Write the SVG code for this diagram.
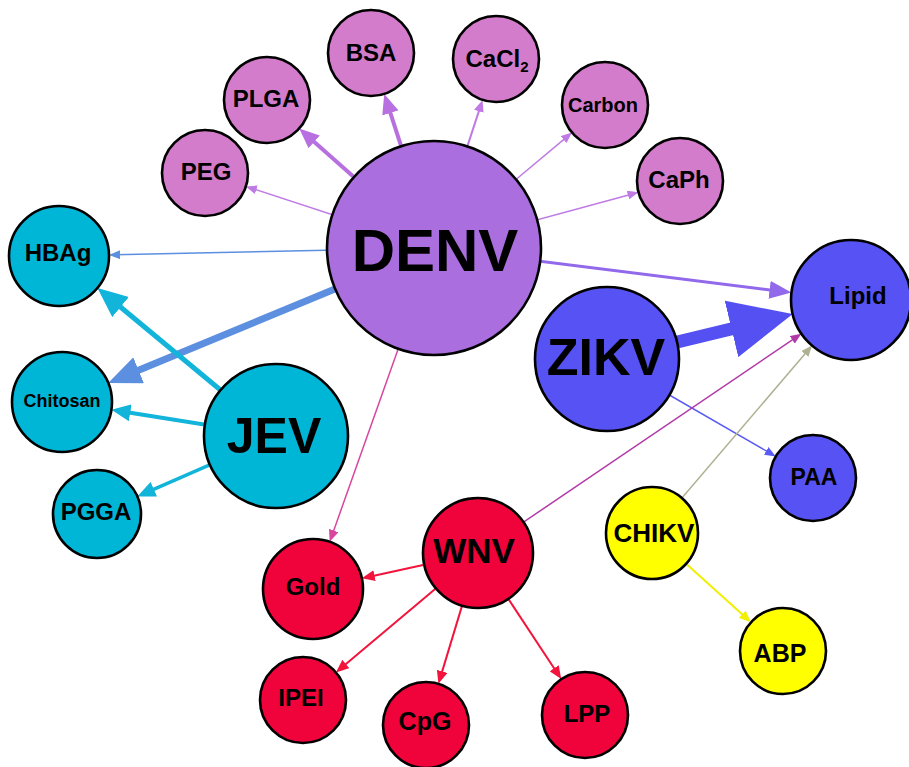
<svg xmlns="http://www.w3.org/2000/svg" width="909" height="767" viewBox="0 0 909 767">
<style>
.n{stroke:#000;stroke-width:2.6}
.t{font-family:"Liberation Sans",Arial,sans-serif;font-weight:bold;text-anchor:middle;fill:#000}
.e{fill:none;stroke-linecap:butt}
.denv{fill:#aa6ede}
.pk{fill:#d47ccc}
.cy{fill:#00b6d6}
.bl{fill:#5652f3}
.rd{fill:#f0033a}
.ye{fill:#ffff00}
</style>
<defs>
<marker id="lps" markerUnits="userSpaceOnUse" markerWidth="11" markerHeight="9" refX="5.5" refY="4.5" orient="auto"><path d="M0,0 L11,4.5 L0,9 z" fill="#bf7ae4"/></marker>
<marker id="lpm" markerUnits="userSpaceOnUse" markerWidth="12" markerHeight="10" refX="6" refY="5" orient="auto"><path d="M0,0 L12,5 L0,10 z" fill="#bf7ae4"/></marker>
<marker id="lpb" markerUnits="userSpaceOnUse" markerWidth="20" markerHeight="17" refX="10" refY="8.5" orient="auto"><path d="M0,0 L20,8.5 L0,17 z" fill="#b870e0"/></marker>
<marker id="bls" markerUnits="userSpaceOnUse" markerWidth="11" markerHeight="9" refX="5.5" refY="4.5" orient="auto"><path d="M0,0 L11,4.5 L0,9 z" fill="#5c8fe0"/></marker>
<marker id="blb" markerUnits="userSpaceOnUse" markerWidth="33" markerHeight="28" refX="16.5" refY="14" orient="auto"><path d="M0,0 L33,14 L0,28 z" fill="#5c8fe0"/></marker>
<marker id="pu" markerUnits="userSpaceOnUse" markerWidth="22" markerHeight="18" refX="11" refY="9" orient="auto"><path d="M0,0 L22,9 L0,18 z" fill="#9269ea"/></marker>
<marker id="pi" markerUnits="userSpaceOnUse" markerWidth="12" markerHeight="10" refX="6" refY="5" orient="auto"><path d="M0,0 L12,5 L0,10 z" fill="#d846a0"/></marker>
<marker id="cyl" markerUnits="userSpaceOnUse" markerWidth="30" markerHeight="26" refX="15" refY="13" orient="auto"><path d="M0,0 L30,13 L0,26 z" fill="#12b4da"/></marker>
<marker id="cym" markerUnits="userSpaceOnUse" markerWidth="19" markerHeight="17" refX="9.5" refY="8.5" orient="auto"><path d="M0,0 L19,8.5 L0,17 z" fill="#12b4da"/></marker>
<marker id="cyn" markerUnits="userSpaceOnUse" markerWidth="18" markerHeight="16" refX="9" refY="8" orient="auto"><path d="M0,0 L18,8 L0,16 z" fill="#12b4da"/></marker>
<marker id="zkb" markerUnits="userSpaceOnUse" markerWidth="63" markerHeight="58" refX="31.5" refY="29" orient="auto"><path d="M0,0 L63,29 L0,58 z" fill="#5550f2"/></marker>
<marker id="zks" markerUnits="userSpaceOnUse" markerWidth="11" markerHeight="9" refX="5.5" refY="4.5" orient="auto"><path d="M0,0 L11,4.5 L0,9 z" fill="#5a5af5"/></marker>
<marker id="mg" markerUnits="userSpaceOnUse" markerWidth="11" markerHeight="9" refX="5.5" refY="4.5" orient="auto"><path d="M0,0 L11,4.5 L0,9 z" fill="#b23aa8"/></marker>
<marker id="kh" markerUnits="userSpaceOnUse" markerWidth="11" markerHeight="9" refX="5.5" refY="4.5" orient="auto"><path d="M0,0 L11,4.5 L0,9 z" fill="#b0b093"/></marker>
<marker id="yw" markerUnits="userSpaceOnUse" markerWidth="12" markerHeight="10" refX="6" refY="5" orient="auto"><path d="M0,0 L12,5 L0,10 z" fill="#f0f000"/></marker>
<marker id="rr" markerUnits="userSpaceOnUse" markerWidth="13" markerHeight="11" refX="6.5" refY="5.5" orient="auto"><path d="M0,0 L13,5.5 L0,11 z" fill="#f2143c"/></marker>
</defs>
<rect width="909" height="767" fill="#fff"/>
<g id="connectors" class="e">
<line x1="434" y1="248" x2="251.1" y2="188.1" stroke="#bf7ae4" stroke-width="1.5" marker-end="url(#lps)"/>
<line x1="434" y1="248" x2="306.7" y2="135.2" stroke="#b870e0" stroke-width="4" marker-end="url(#lpb)"/>
<line x1="434" y1="248" x2="387.3" y2="103.4" stroke="#b870e0" stroke-width="4" marker-end="url(#lpb)"/>
<line x1="434" y1="248" x2="480.7" y2="105.6" stroke="#bf7ae4" stroke-width="2" marker-end="url(#lpm)"/>
<line x1="434" y1="248" x2="567.8" y2="136.1" stroke="#bf7ae4" stroke-width="1.5" marker-end="url(#lps)"/>
<line x1="434" y1="248" x2="633.2" y2="193.7" stroke="#bf7ae4" stroke-width="1.5" marker-end="url(#lps)"/>
<line x1="434" y1="248" x2="114.5" y2="254.8" stroke="#5c8fe0" stroke-width="1.5" marker-end="url(#bls)"/>
<line x1="434" y1="248" x2="123.4" y2="376.6" stroke="#5c8fe0" stroke-width="7" marker-end="url(#blb)"/>
<line x1="434" y1="248" x2="780.5" y2="291.2" stroke="#9269ea" stroke-width="3" marker-end="url(#pu)"/>
<line x1="434" y1="248" x2="331.7" y2="536.2" stroke="#d846a0" stroke-width="1.5" marker-end="url(#pi)"/>
<line x1="276" y1="436" x2="109" y2="297.5" stroke="#12b4da" stroke-width="5" marker-end="url(#cyl)"/>
<line x1="276" y1="436" x2="120.8" y2="411.3" stroke="#12b4da" stroke-width="4" marker-end="url(#cym)"/>
<line x1="276" y1="436" x2="145.6" y2="492.8" stroke="#12b4da" stroke-width="3.5" marker-end="url(#cyn)"/>
<line x1="607" y1="359" x2="762.1" y2="321.5" stroke="#5550f2" stroke-width="13" marker-end="url(#zkb)"/>
<line x1="607" y1="359" x2="771" y2="453.7" stroke="#5a5af5" stroke-width="1.5" marker-end="url(#zks)"/>
<line x1="478" y1="553" x2="796.8" y2="336.8" stroke="#b23aa8" stroke-width="1.5" marker-end="url(#mg)"/>
<line x1="652" y1="533" x2="808.5" y2="349.8" stroke="#b0b093" stroke-width="1.5" marker-end="url(#kh)"/>
<line x1="652" y1="533" x2="746.6" y2="618.2" stroke="#f0f000" stroke-width="2" marker-end="url(#yw)"/>
<line x1="478" y1="553" x2="368.2" y2="576.9" stroke="#f2143c" stroke-width="2" marker-end="url(#rr)"/>
<line x1="478" y1="553" x2="340.9" y2="668.2" stroke="#f2143c" stroke-width="2" marker-end="url(#rr)"/>
<line x1="478" y1="553" x2="440.3" y2="677.6" stroke="#f2143c" stroke-width="2" marker-end="url(#rr)"/>
<line x1="478" y1="553" x2="557.7" y2="673.7" stroke="#f2143c" stroke-width="2" marker-end="url(#rr)"/>
</g>
<g id="DENV"><circle class="n denv" cx="434" cy="248" r="107"/><text class="t" x="435" y="271" font-size="60">DENV</text></g>
<g id="PEG"><circle class="n pk" cx="205" cy="173" r="43"/><text class="t" x="206" y="180" font-size="24">PEG</text></g>
<g id="PLGA"><circle class="n pk" cx="267" cy="100" r="43"/><text class="t" x="266" y="107" font-size="24">PLGA</text></g>
<g id="BSA"><circle class="n pk" cx="371" cy="53" r="43"/><text class="t" x="371" y="61" font-size="24">BSA</text></g>
<g id="CaCl2"><circle class="n pk" cx="496" cy="59" r="43"/><text class="t" x="497" y="67" font-size="24">CaCl<tspan font-size="15" dy="5">2</tspan></text></g>
<g id="Carbon"><circle class="n pk" cx="605" cy="105" r="43"/><text class="t" x="603" y="112" font-size="20">Carbon</text></g>
<g id="CaPh"><circle class="n pk" cx="680" cy="181" r="43"/><text class="t" x="679" y="188" font-size="24">CaPh</text></g>
<g id="HBAg"><circle class="n cy" cx="59" cy="256" r="50"/><text class="t" x="58" y="261" font-size="24">HBAg</text></g>
<g id="Chitosan"><circle class="n cy" cx="62" cy="402" r="50"/><text class="t" x="62" y="407" font-size="18">Chitosan</text></g>
<g id="PGGA"><circle class="n cy" cx="97" cy="514" r="44"/><text class="t" x="96" y="520" font-size="24">PGGA</text></g>
<g id="JEV"><circle class="n cy" cx="276" cy="436" r="72"/><text class="t" x="274" y="453" font-size="50">JEV</text></g>
<g id="Lipid"><circle class="n bl" cx="851" cy="300" r="60"/><text class="t" x="858" y="304" font-size="24">Lipid</text></g>
<g id="ZIKV"><circle class="n bl" cx="607" cy="359" r="72"/><text class="t" x="606" y="375" font-size="52">ZIKV</text></g>
<g id="PAA"><circle class="n bl" cx="813" cy="478" r="43"/><text class="t" x="814" y="485" font-size="23">PAA</text></g>
<g id="WNV"><circle class="n rd" cx="478" cy="553" r="55"/><text class="t" x="474" y="563" font-size="35">WNV</text></g>
<g id="Gold"><circle class="n rd" cx="313" cy="589" r="50"/><text class="t" x="313" y="595" font-size="24">Gold</text></g>
<g id="IPEI"><circle class="n rd" cx="303" cy="700" r="43"/><text class="t" x="301" y="706" font-size="24">IPEI</text></g>
<g id="CpG"><circle class="n rd" cx="426" cy="725" r="43"/><text class="t" x="425" y="730" font-size="25">CpG</text></g>
<g id="LPP"><circle class="n rd" cx="585" cy="715" r="43"/><text class="t" x="587" y="722" font-size="24">LPP</text></g>
<g id="CHIKV"><circle class="n ye" cx="652" cy="533" r="46"/><text class="t" x="654" y="542" font-size="26">CHIKV</text></g>
<g id="ABP"><circle class="n ye" cx="783" cy="651" r="43"/><text class="t" x="780" y="662" font-size="25">ABP</text></g>
</svg>
